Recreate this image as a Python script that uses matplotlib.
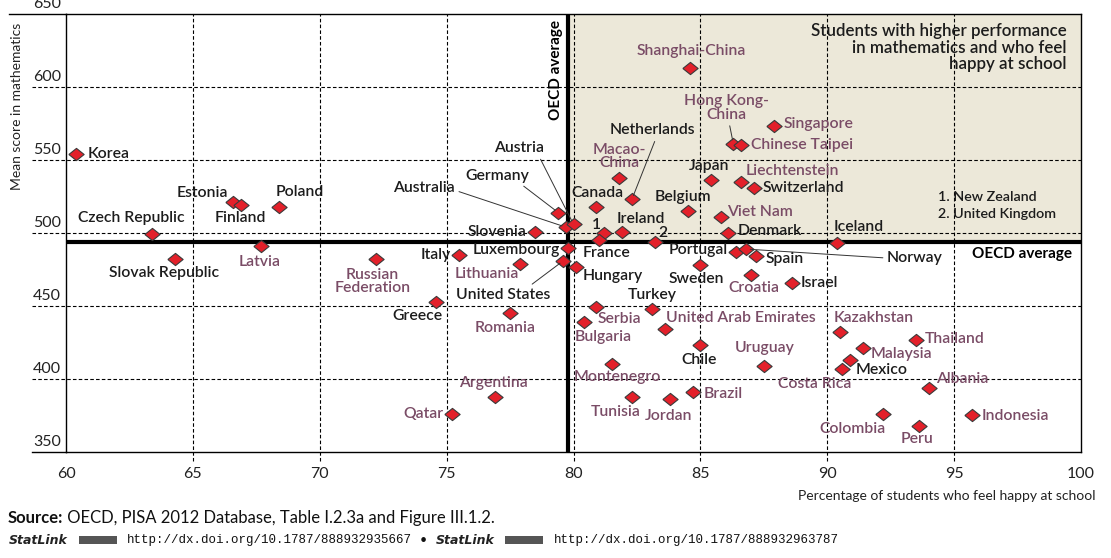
import matplotlib
matplotlib.use("Agg")
import matplotlib.pyplot as plt
from matplotlib.patches import Rectangle
from matplotlib.transforms import blended_transform_factory, offset_copy

# ---------------- data ----------------
countries = ["Korea", "Estonia", "Finland", "Poland", "Czech Republic", "Latvia",
             "Slovak Republic", "Russian Federation", "Italy", "Lithuania", "Slovenia",
             "Luxembourg", "Germany", "Australia", "Austria", "United States", "Hungary",
             "Canada", "Macao-China", "Netherlands", "New Zealand", "France", "Ireland",
             "United Kingdom", "Serbia", "Turkey", "Bulgaria", "United Arab Emirates",
             "Montenegro", "Tunisia", "Jordan", "Brazil", "Chile", "Sweden", "Portugal",
             "Norway", "Spain", "Denmark", "Viet Nam", "Belgium", "Japan", "Liechtenstein",
             "Switzerland", "Hong Kong-China", "Chinese Taipei", "Singapore", "Shanghai-China",
             "Croatia", "Israel", "Iceland", "Kazakhstan", "Malaysia", "Mexico", "Costa Rica",
             "Uruguay", "Thailand", "Albania", "Colombia", "Peru", "Indonesia", "Greece",
             "Romania", "Argentina", "Qatar"]
happy = [60.4, 66.6, 66.9, 68.4, 63.4, 67.7,
         64.3, 72.2, 75.5, 77.9, 78.5,
         79.8, 79.4, 79.7, 80.0, 79.6, 80.1,
         80.9, 81.8, 82.3, 81.2, 81.0, 81.9,
         83.2, 80.9, 83.1, 80.4, 83.6,
         81.5, 82.3, 83.8, 84.7, 85.0, 85.0, 86.4,
         86.8, 87.2, 86.1, 85.8, 84.5, 85.4, 86.6,
         87.1, 86.3, 86.6, 87.9, 84.6,
         87.0, 88.6, 90.4, 90.5, 91.4, 90.9, 90.6,
         87.5, 93.5, 94.0, 92.2, 93.6, 95.7, 74.6,
         77.5, 76.9, 75.2]
math_score = [554, 521, 519, 518, 499, 491,
              482, 482, 485, 479, 501,
              490, 514, 504, 506, 481, 477,
              518, 538, 523, 500, 495, 501,
              494, 449, 448, 439, 434,
              410, 388, 386, 391, 423, 478, 487,
              489, 484, 500, 511, 515, 536, 535,
              531, 561, 560, 573, 613,
              471, 466, 493, 432, 421, 413, 407,
              409, 427, 394, 376, 368, 375, 453,
              445, 388, 376]
partners = {"Latvia", "Russian Federation", "Lithuania", "Macao-China", "Serbia", "Bulgaria",
            "United Arab Emirates", "Montenegro", "Tunisia", "Jordan", "Brazil", "Viet Nam",
            "Liechtenstein", "Hong Kong-China", "Chinese Taipei", "Singapore", "Shanghai-China",
            "Croatia", "Kazakhstan", "Malaysia", "Costa Rica", "Uruguay", "Thailand", "Albania",
            "Colombia", "Peru", "Indonesia", "Romania", "Argentina", "Qatar"}
oecd_happy = 79.8
oecd_math = 494
x_ticks = [60, 65, 70, 75, 80, 85, 90, 95, 100]
y_ticks = [350, 400, 450, 500, 550, 600, 650]

# ---------------- label layout (offsets in pixels) ----------------
display_name = {"Russian Federation": "Russian\nFederation", "Macao-China": "Macao-\nChina",
                "Hong Kong-China": "Hong Kong-\nChina", "New Zealand": "1",
                "United Kingdom": "2"}
# name: (dx, dy_up, ha)
layout = {
    "Korea": (11, 0, "left"), "Estonia": (-5, 9, "right"), "Finland": (-1, -13, "center"),
    "Poland": (-4, 15, "left"), "Czech Republic": (-21, 16, "center"),
    "Latvia": (-2, -16, "center"), "Slovak Republic": (-11, -14, "center"),
    "Russian Federation": (-3, -22, "center"), "Italy": (-8, 0, "right"),
    "Lithuania": (-1.5, -10, "right"), "Slovenia": (-9, 0, "right"),
    "Luxembourg": (-8, -2, "right"), "Hungary": (7, -9, "left"),
    "Canada": (1, 14, "center"), "Macao-China": (0, 21, "center"),
    "New Zealand": (-8, 8, "center"), "France": (-16, -13, "left"),
    "Ireland": (-5, 13, "left"), "United Kingdom": (8, 9, "center"),
    "Serbia": (1, -12, "left"), "Turkey": (0, 14, "center"), "Bulgaria": (-9, -15, "left"),
    "United Arab Emirates": (1.5, 11, "left"), "Montenegro": (-37.5, -13, "left"),
    "Tunisia": (-16, -15, "center"), "Jordan": (-1, -17, "center"),
    "Brazil": (10.5, -1.5, "left"), "Chile": (-1, -15, "center"),
    "Sweden": (-4.5, -14, "center"), "Portugal": (-8, 2, "right"), "Spain": (9, -3, "left"),
    "Denmark": (9, 2, "left"), "Viet Nam": (6, 5, "left"), "Belgium": (-5, 14, "center"),
    "Japan": (-1, 14, "center"), "Liechtenstein": (4.5, 11, "left"),
    "Switzerland": (9, 0, "left"), "Chinese Taipei": (10, 0, "left"),
    "Singapore": (10, 2, "left"), "Shanghai-China": (1, 17, "center"),
    "Croatia": (3, -13, "center"), "Israel": (9, 0, "left"), "Iceland": (-4, 16, "left"),
    "Kazakhstan": (-6, 14, "left"), "Malaysia": (8, -6, "left"), "Mexico": (6, -10, "left"),
    "Costa Rica": (8.5, -15, "right"), "Uruguay": (1, 18, "center"),
    "Thailand": (9, 1, "left"), "Albania": (7, 9, "left"), "Colombia": (-31, -15, "center"),
    "Peru": (-2, -13, "center"), "Indonesia": (9.5, -1, "left"), "Greece": (6, -14, "right"),
    "Romania": (-5, -15, "center"), "Argentina": (-1, 14, "center"), "Qatar": (-8.5, 0, "right"),
}
# leader-line labels: name: (dx, dy_up, ha, relpos)
leaders = {
    "Germany": (-61, 37, "center", (0.84, 0.0)),
    "Australia": (-111, 39, "right", (1.0, 0.35)),
    "Austria": (-54, 76, "center", (0.88, 0.0)),
    "Netherlands": (21, 69, "center", (0.54, 0.0)),
    "Hong Kong-China": (-7, 36, "center", (0.53, 0.0)),
    "Norway": (141, -9, "left", (0.0, 0.5)),
    "United States": (-60.5, -34, "center", (0.76, 1.0)),
}

# ---------------- style ----------------
FONT = "Lato"
plt.rcParams["font.family"] = [FONT, "DejaVu Sans"]
OECD_COL = "#1c1c1c"
PARTNER_COL = "#7a4c66"
SHADE = "#ece8d9"
MARKER_FILL = "#e3202a"
MARKER_EDGE = "#3a3a3a"
DASH = (0, (3.2, 2.0))
LABEL_FS = 11.3

fig = plt.figure(figsize=(11.11, 5.58), dpi=100)
ax = fig.add_axes([66 / 1111, 1 - 452 / 558, 1015 / 1111, 438 / 558])
ax.set_xlim(60, 100)
ax.set_ylim(350, 650)
ax.set_facecolor("white")

# shaded quadrant
ax.add_patch(Rectangle((oecd_happy, oecd_math), 100 - oecd_happy, 650 - oecd_math,
                       facecolor=SHADE, edgecolor="none", zorder=0))

# grid lines
xtrans = blended_transform_factory(ax.transAxes, ax.transData)
for yv in y_ticks[1:-1]:
    ax.plot([-0.0335, 1], [yv, yv], transform=xtrans, color="black", lw=0.8,
            ls=DASH, clip_on=False, zorder=1)
for xv in x_ticks[1:-1]:
    ax.axvline(xv, ymin=-0.02, ymax=1, color="black", lw=0.8, ls=DASH,
               clip_on=False, zorder=1)

# spines
for s in ax.spines.values():
    s.set_linewidth(1.0)
    s.set_color("black")
ax.plot([-0.0335, 0], [350, 350], transform=xtrans, color="black", lw=1.0, clip_on=False)
ax.plot([-0.056, 0], [650, 650], transform=xtrans, color="black", lw=1.0, clip_on=False)

# OECD average lines
ax.axhline(oecd_math, color="black", lw=3.0, zorder=2)
ax.axvline(oecd_happy, color="black", lw=3.0, zorder=2)

# ticks
ax.set_xticks(x_ticks)
ax.set_xticklabels([str(v) for v in x_ticks], fontsize=11.5, color="#222222")
ax.tick_params(axis="x", length=0, pad=11)
ax.set_yticks([])
ytext_tr = offset_copy(xtrans, fig=fig, x=0, y=10, units="dots")
for yv in y_ticks:
    ax.text(-0.0325, yv, str(yv), transform=ytext_tr, ha="left", va="center",
            fontsize=11.5, color="#222222", clip_on=False)

# markers
diamond = [(-1, 0), (0, 0.8), (1, 0), (0, -0.8), (-1, 0)]
ax.plot(happy, math_score, linestyle="none", marker=diamond, ms=11,
        markerfacecolor=MARKER_FILL, markeredgecolor=MARKER_EDGE, markeredgewidth=0.8,
        zorder=5)

# labels
for name, xv, yv in zip(countries, happy, math_score):
    col = PARTNER_COL if name in partners else OECD_COL
    txt = display_name.get(name, name)
    if name in layout:
        dx, dy, ha = layout[name]
        ax.annotate(txt, xy=(xv, yv), xytext=(dx, dy), textcoords="offset pixels",
                    ha=ha, va="center", multialignment="center", fontsize=LABEL_FS,
                    fontweight="semibold", color=col, zorder=6, linespacing=0.95)
    elif name in leaders:
        dx, dy, ha, rp = leaders[name]
        ax.annotate(txt, xy=(xv, yv), xytext=(dx, dy), textcoords="offset pixels",
                    ha=ha, va="center", multialignment="center", fontsize=LABEL_FS,
                    fontweight="semibold", color=col, zorder=6, linespacing=0.95,
                    arrowprops=dict(arrowstyle="-", color="#333333", lw=0.7,
                                    relpos=rp, shrinkA=1, shrinkB=3))

# annotations inside the chart
ax.text(0.4828, 0.872, "OECD average", transform=ax.transAxes, rotation=90,
        ha="center", va="center", fontsize=11, fontweight="bold", color="black")
ax.text(0.9916, 0.452, "OECD average", transform=ax.transAxes, ha="right",
        va="center", fontsize=11, fontweight="bold", color="black")
for i, line in enumerate(["Students with higher performance",
                          "in mathematics and who feel", "happy at school"]):
    ax.text(0.986, 0.962 - i * 0.0385, line, transform=ax.transAxes, ha="right",
            va="center", fontsize=12.2, fontweight="semibold", color="#1c1c1c")
ax.text(0.859, 0.5815, "1. New Zealand", transform=ax.transAxes, ha="left",
        va="center", fontsize=10.3, fontweight="semibold", color="#1c1c1c")
ax.text(0.859, 0.5427, "2. United Kingdom", transform=ax.transAxes, ha="left",
        va="center", fontsize=10.3, fontweight="semibold", color="#1c1c1c")

# axis titles
fig.text(17 / 1111, 1 - 106 / 558, "Mean score in mathematics", rotation=90,
         ha="center", va="center", fontsize=10, color="#222222")
fig.text(1095 / 1111, 1 - 496 / 558, "Percentage of students who feel happy at school",
         ha="right", va="center", fontsize=10, color="#222222")

# footer
t1 = fig.text(8 / 1111, 1 - 518 / 558, "Source:", ha="left", va="center",
              fontsize=12, fontweight="bold", color="#111111")
ax.annotate(" OECD, PISA 2012 Database, Table I.2.3a and Figure III.1.2.",
            xy=(1, 0.5), xycoords=t1, ha="left", va="center", fontsize=12,
            color="#111111", annotation_clip=False)
yl = 1 - 540 / 558
for sx, lx, ux, url in [(9, 78.6, 126.8, "http://dx.doi.org/10.1787/888932935667"),
                        (436, 505, 553.6, "http://dx.doi.org/10.1787/888932963787")]:
    fig.text(sx / 1111, yl, "StatLink", ha="left", va="center", fontsize=9,
             fontstyle="italic", fontweight="bold", family="DejaVu Sans", color="#222222")
    fig.add_artist(Rectangle((lx / 1111, yl - 4 / 558), 38 / 1111, 8 / 558,
                             transform=fig.transFigure, facecolor="#555555",
                             edgecolor="none"))
    fig.text(ux / 1111, yl, url, ha="left", va="center", fontsize=9,
             family="Liberation Mono", color="#111111")
fig.text(423 / 1111, yl, "\u2022", ha="center", va="center", fontsize=9, color="#111111")

fig.savefig("out.png", dpi=100)
